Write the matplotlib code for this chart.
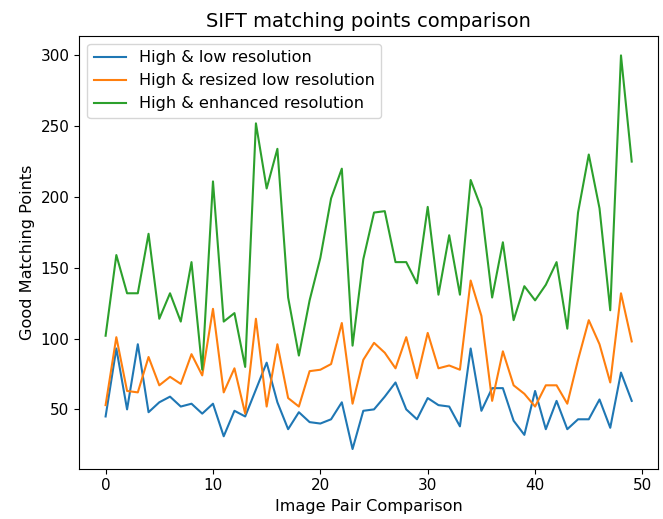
import matplotlib
matplotlib.use("Agg")
import matplotlib.pyplot as plt

low_res = [45, 93, 50, 96, 48, 55, 59, 52, 54, 47, 54, 31, 49, 45, 64, 83, 55, 36, 48, 41,
           40, 43, 55, 22, 49, 50, 59, 69, 50, 43, 58, 53, 52, 38, 93, 49, 65, 65, 42, 32,
           63, 36, 56, 36, 43, 43, 57, 37, 76, 56]
resized_res = [53, 101, 63, 62, 87, 67, 73, 68, 89, 74, 121, 62, 79, 47, 114, 52, 96, 58, 52, 77,
               78, 82, 111, 54, 85, 97, 90, 79, 101, 72, 104, 79, 81, 78, 141, 116, 56, 91, 67, 61,
               52, 67, 67, 54, 85, 113, 96, 69, 132, 98]
enhanced_res = [102, 159, 132, 132, 174, 114, 132, 112, 154, 78, 211, 112, 118, 80, 252, 206, 234, 129, 88, 127,
                157, 199, 220, 95, 156, 189, 190, 154, 154, 139, 193, 131, 173, 131, 212, 192, 129, 168, 113, 137,
                127, 138, 154, 107, 189, 230, 192, 120, 300, 225]
labels = ["High & low resolution", "High & resized low resolution", "High & enhanced resolution"]

fig, ax = plt.subplots(figsize=(6.63, 5.19), dpi=100)
fig.subplots_adjust(left=0.1196, right=0.9925, top=0.9312, bottom=0.0969)

x = range(len(low_res))
ax.plot(x, low_res, label=labels[0])
ax.plot(x, resized_res, label=labels[1])
ax.plot(x, enhanced_res, label=labels[2])

ax.set_title("SIFT matching points comparison", fontsize=14)
ax.set_xlabel("Image Pair Comparison", fontsize=11.6)
ax.set_ylabel("Good Matching Points", fontsize=11.6)
ax.tick_params(labelsize=11)
ax.legend(loc="upper left", fontsize=11.6)

fig.savefig("out.png", dpi=100)
